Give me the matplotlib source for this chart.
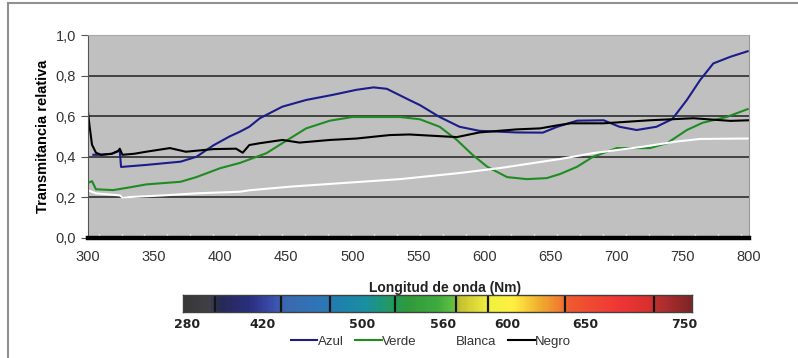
import numpy as np
import matplotlib
matplotlib.use('Agg')
import matplotlib.pyplot as plt
from matplotlib.colors import LinearSegmentedColormap
from matplotlib.ticker import FuncFormatter, FixedLocator
from matplotlib.lines import Line2D

# datos (longitud de onda en nm, transmitancia relativa)
azul_x = [304, 310, 318, 324, 325, 344, 370, 382, 395, 407, 415, 422, 430, 447, 465, 485, 503, 516, 526,
          543, 551, 566, 581, 596, 624, 644, 655, 670, 690, 702, 715, 730, 742, 753, 763, 773, 786, 799]
azul_y = [0.41, 0.41, 0.415, 0.43, 0.35, 0.36, 0.376, 0.40, 0.457, 0.50, 0.524, 0.548, 0.59, 0.647, 0.68,
          0.705, 0.73, 0.742, 0.735, 0.68, 0.655, 0.596, 0.548, 0.528, 0.52, 0.519, 0.548, 0.578, 0.58,
          0.548, 0.532, 0.548, 0.586, 0.68, 0.778, 0.86, 0.893, 0.92]

verde_x = [300, 303, 306, 319, 332, 344, 370, 382, 400, 415, 435, 447, 465, 483, 500, 536, 551, 566, 579,
           591, 602, 617, 632, 647, 657, 670, 682, 700, 725, 738, 753, 765, 783, 799]
verde_y = [0.272, 0.28, 0.24, 0.236, 0.25, 0.264, 0.277, 0.30, 0.344, 0.37, 0.418, 0.467, 0.54, 0.578,
           0.596, 0.596, 0.585, 0.548, 0.483, 0.409, 0.351, 0.30, 0.29, 0.295, 0.315, 0.351, 0.40, 0.443,
           0.443, 0.467, 0.532, 0.568, 0.596, 0.635]

blanca_x = [300, 306, 324, 326, 357, 382, 415, 422, 453, 491, 536, 581, 612, 657, 682, 720, 745, 763, 799]
blanca_y = [0.235, 0.22, 0.21, 0.20, 0.21, 0.22, 0.228, 0.235, 0.253, 0.27, 0.29, 0.32, 0.345, 0.389,
            0.418, 0.45, 0.475, 0.488, 0.49]

negro_x = [300, 301, 303, 306, 310, 318, 323, 324, 326, 335, 344, 362, 374, 395, 412, 417, 422, 430, 447,
           460, 483, 503, 528, 543, 579, 596, 624, 642, 655, 665, 690, 725, 758, 786, 800]
negro_y = [0.62, 0.56, 0.46, 0.42, 0.41, 0.415, 0.43, 0.44, 0.41, 0.415, 0.425, 0.443, 0.425, 0.438, 0.44,
           0.42, 0.458, 0.467, 0.483, 0.47, 0.483, 0.49, 0.507, 0.51, 0.497, 0.52, 0.535, 0.54, 0.555,
           0.565, 0.565, 0.58, 0.59, 0.577, 0.58]

xticks = list(range(300, 801, 50))
yticks = [0.0, 0.2, 0.4, 0.6, 0.8, 1.0]

# barra de colores del espectro
cbar_labels = ['280', '420', '500', '560', '600', '650', '750']
cbar_label_pos = [0.008, 0.157, 0.352, 0.511, 0.637, 0.790, 0.984]
cbar_div = [0.063, 0.193, 0.289, 0.417, 0.536, 0.599, 0.750, 0.925]
cbar_stops = [(0.00, '#383838'), (0.05, '#404048'), (0.07, '#262a55'), (0.13, '#2a2f80'),
              (0.17, '#3a4aa8'), (0.20, '#3a6ab0'), (0.28, '#2c78b8'), (0.30, '#1f7fb0'),
              (0.36, '#1a90a0'), (0.41, '#229a60'), (0.44, '#2f9a3a'), (0.50, '#40aa40'),
              (0.53, '#60c040'), (0.545, '#c8c030'), (0.60, '#f0f040'), (0.65, '#fff040'),
              (0.70, '#f0b030'), (0.74, '#f08030'), (0.76, '#f05a30'), (0.86, '#f03535'),
              (0.92, '#d83030'), (0.93, '#c03030'), (1.00, '#802525')]

fig = plt.figure(figsize=(7.98, 3.58), dpi=100)
plt.rcParams['font.family'] = ['Liberation Sans', 'DejaVu Sans']

# marco exterior
fig.add_artist(Line2D([0.010, 1.0], [0.992, 0.992], transform=fig.transFigure, color='#909090', lw=1.5))
fig.add_artist(Line2D([0.010, 0.010], [0.0, 0.992], transform=fig.transFigure, color='#909090', lw=1.5))

ax = fig.add_axes([0.1103, 0.3352, 0.8283, 0.567])
ax.set_facecolor('#c0c0c0')
ax.plot(azul_x, azul_y, color='#1c1c8a', lw=1.5, label='Azul')
ax.plot(verde_x, verde_y, color='#1f8c22', lw=1.5, label='Verde')
ax.plot(blanca_x, blanca_y, color='white', lw=1.5, label='Blanca')
ax.plot(negro_x, negro_y, color='black', lw=1.5, label='Negro')

ax.set_xlim(300, 800)
ax.set_ylim(0, 1)
ax.set_xticks(xticks)
ax.set_yticks(yticks)
ax.yaxis.set_major_formatter(FuncFormatter(lambda v, p: f'{v:.1f}'.replace('.', ',')))
ax.grid(axis='y', color='#383838', lw=1.3)
ax.set_axisbelow(True)
ax.tick_params(axis='x', which='major', length=0, labelsize=10.5, pad=9, labelcolor='#333333')
ax.tick_params(axis='y', length=5, color='#555555', labelsize=10.5, labelcolor='#333333')
ax.xaxis.set_minor_locator(FixedLocator(np.arange(308, 800, 17.35)))
ax.tick_params(axis='x', which='minor', direction='in', length=3, width=1, color='white')
ax.spines['bottom'].set_linewidth(3.2)
ax.spines['bottom'].set_color('black')
ax.spines['top'].set_color('#a8a8a8')
ax.spines['right'].set_color('#999999')
ax.spines['left'].set_color('#555555')
ax.set_ylabel('Transmitancia relativa', fontsize=10.5, fontweight='bold', labelpad=4)

# barra del espectro
cmap = LinearSegmentedColormap.from_list('espectro', cbar_stops)
cax = fig.add_axes([0.2293, 0.1285, 0.6378, 0.0475])
cax.imshow(np.linspace(0, 1, 600)[None, :], cmap=cmap, aspect='auto', extent=[0, 1, 0, 1])
for d in cbar_div:
    cax.axvline(d, color='#151515', lw=1.6)
cax.set_xlim(0, 1)
cax.set_ylim(0, 1)
cax.set_xticks([])
cax.set_yticks([])
for s in cax.spines.values():
    s.set_color('#404040')
    s.set_linewidth(1)
for lab, pos in zip(cbar_labels, cbar_label_pos):
    cax.text(pos, -0.35, lab, transform=cax.transAxes, ha='center', va='top',
             fontsize=9, fontweight='bold', family='DejaVu Sans', color='#222222')
fig.text(0.558, 0.196, 'Longitud de onda (Nm)', ha='center', va='center',
         fontsize=10, fontweight='bold', color='#222222')

fig.legend(loc='center', bbox_to_anchor=(0.54, 0.045), ncol=4, frameon=False, fontsize=9.5,
           handlelength=2.0, handletextpad=0.05, columnspacing=0.9, labelcolor='#333333')

fig.savefig('out.png', dpi=100)
